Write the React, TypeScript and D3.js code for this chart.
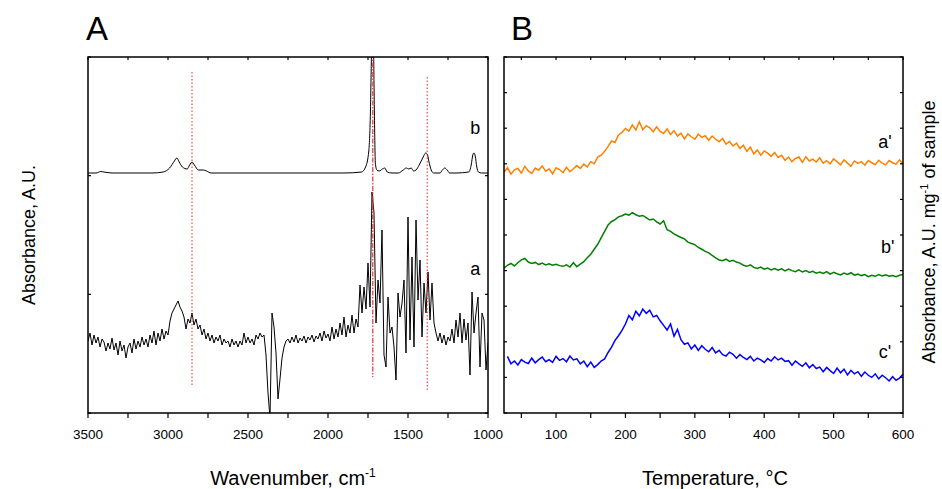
import React from 'react';
import * as d3 from 'd3';

// ---------- Panel A: FTIR spectra ----------
const wavenumbers = d3.range(3500, 999, -12.5);
const spectrumA = [
  72,80,68,78,70,76,66,74,71,62, 70,64,75,63,70,58,72,62,68,55, 66,70,60,74,64,72,66,76,68,74, 66,78,70,82,68,80,72,84,74,82, 78,
  92,100,104,108,112,106,102,96,84,94, 90,100,88,94,84,88,78,84,74,80, 72,78,70,76,72,78,68,74,70,72, 66,74,68,72,66,72,68,80,70,76,
  70,74,68,78,74,80,76,78,58,20, -5,100,86,60,14,34,55,66,72,74,
  70,76,71,78,70,75,72,77,70,76, 73,78,71,77,74,80,72,82,75,79, 72,86,74,84,76,90,78,96,76,88, 80,98,80,94,86,
  128,100,126,104,150,106,221,200,90,133, 110,183,58,46,116,80,86,66,33,120, 96,110,133,60,196,73,156,66,193,113, 153,76,130,100,141,93,130,90,80,
  72,80,70,78,68,76,72,84,70,93, 76,100,70,94,73,90,38,121,80,100, 116,46,100,93,43,70,
];
const spectrumBwn = [3500,3450,3420,3400,3350,3250,3100,3030,2990,2960,2945,2930,2910,2880,2865,2850,2835,2810,2780,2760,2730,2500,2200,1900,1790,1765,1745,1735,1728,1722,1716,1710,1704,1695,1680,1660,1645,1630,1600,1560,1530,1510,1495,1480,1465,1450,1430,1405,1390,1380,1370,1355,1340,1300,1285,1270,1255,1240,1200,1120,1105,1095,1088,1080,1070,1060,1040,1000];
const spectrumBval = [240,240,241.5,241,240,240,240,241,245,252,255,251,246,244,248,251,248,243,243,242,240,240,240,240,241,246,262,300,360,385,370,300,250,243,242,244,245,241,240,240,243,245,244,245,242,243,248,256,260,259,252,243,240,240,243,245,243,240,240,241,248,258,260,257,246,241,240,240];
const markerWavenumbers = [2850, 1720, 1380];
const markerTop = [341, 360, 336];
const markerBottom = [28, 36, 23];
const wnTicks = [3500, 3000, 2500, 2000, 1500, 1000];
const wnMinorTicks = d3.range(3500, 999, -250);

// ---------- Panel B: TPD profiles ----------
const temperatures = d3.range(25, 601, 5);
const temperaturesC = d3.range(30, 601, 5);
const profileA = [
  67.6,68.9,67.1,68.3,68.7,67.4,69.3,68.0,67.3,68.8,
  68.2,69.4,67.9,68.6,67.2,68.9,68.4,67.5,69.0,67.8,
  68.6,69.5,68.7,69.9,69.1,70.6,70.0,71.9,72.4,73.5,
  74.9,76.4,76.0,78.1,78.8,79.9,79.2,80.9,79.5,81.8,
  79.6,80.7,80.1,79.0,80.4,79.1,78.5,79.8,78.2,79.3,
  77.8,78.6,77.0,78.4,77.6,76.9,78.3,77.4,77.9,76.6,
  77.8,76.9,76.2,77.1,75.5,76.3,75.0,75.8,74.3,75.2,
  73.5,74.7,72.8,73.9,72.4,73.6,73.0,72.1,73.2,71.8,
  72.4,71.0,71.9,70.6,71.5,71.9,70.4,72.0,70.8,71.3,
  70.5,71.7,70.2,70.9,70.0,71.4,70.6,69.7,71.1,70.2,
  69.3,70.8,70.1,70.6,69.6,70.9,70.3,69.8,71.0,70.2,
  69.7,70.9,70.3,69.9,71.1,69.9,
];
const profileB = [
  40.7,41.5,42.0,41.3,42.2,43.0,43.4,42.4,42.0,42.3,
  41.7,42.1,41.6,41.9,41.5,41.8,41.4,41.2,41.6,41.0,
  42.2,41.1,41.8,42.5,43.6,44.6,46.0,47.4,49.2,51.0,
  52.8,53.8,54.3,55.1,55.4,55.9,55.6,56.3,55.7,55.3,
  55.5,54.9,54.2,54.5,53.7,53.1,54.0,51.5,51.0,50.3,
  49.8,49.3,48.9,48.0,47.6,47.3,46.5,46.0,45.4,45.0,
  44.3,43.6,43.0,42.8,43.2,42.6,42.9,42.4,42.1,41.5,
  41.2,41.6,40.9,40.6,41.0,40.4,40.7,40.2,40.6,40.1,
  40.5,39.9,40.4,40.0,39.7,40.2,39.6,40.0,39.5,39.8,
  39.3,39.6,39.2,39.7,39.0,39.5,39.1,38.8,39.3,38.9,
  39.4,38.7,39.0,38.6,38.9,38.3,38.7,38.4,38.9,38.5,
  38.8,38.4,38.6,38.3,38.7,38.9,
];
const profileC = [
  15.9,13.8,14.6,13.5,15.0,14.3,13.9,15.4,14.1,15.0,
  15.7,14.4,15.0,14.2,15.9,14.8,15.3,14.4,16.0,14.9,
  15.2,13.8,14.6,13.0,14.3,12.8,13.6,14.6,15.2,17.0,
  18.5,20.4,21.7,23.2,25.0,27.4,26.2,28.6,27.3,29.2,
  28.0,28.9,27.0,27.4,25.9,24.6,23.3,25.0,21.6,23.5,
  20.6,19.3,19.7,18.0,19.1,17.6,18.9,17.9,17.2,18.4,
  16.9,17.6,16.4,16.0,17.1,16.5,15.4,16.4,15.6,15.0,
  15.9,14.6,15.4,14.9,14.2,15.3,14.6,15.8,14.9,15.4,
  14.5,14.7,13.4,14.6,13.8,13.1,14.1,12.7,13.6,12.5,
  12.9,11.6,12.8,11.9,11.1,12.6,11.3,12.3,10.7,12.0,
  11.0,11.6,10.3,11.5,10.6,10.0,11.0,9.6,10.6,9.9,
  9.0,10.2,9.2,9.8,10.9,
];
const tempTicks = [100, 200, 300, 400, 500, 600];
const tempMinorTicks = d3.range(50, 601, 50);
const seriesNamesB = ["a'", "b'", "c'"];
const seriesColorsB = ['#ff8000', '#008000', '#0000ff'];

const FONT = '"Liberation Sans", Arial, sans-serif';

const W = 942, H = 489;
const top = 57, bottom = 413;
const A = { left: 88, right: 488 };
const B = { left: 504, right: 903 };

export default function App() {
  const xA = d3.scaleLinear().domain([3500, 1000]).range([A.left, A.right]);
  const yA = d3.scaleLinear().domain([0, 356]).range([bottom, top]);
  const xB = d3.scaleLinear().domain([25, 600]).range([B.left, B.right]);
  const yB = d3.scaleLinear().domain([0, 100]).range([bottom, top]);

  const lineA = d3.line<number>().x((_, i) => xA(wavenumbers[i])).y((d) => yA(d));
  const lineAb = d3.line<number>().x((_, i) => xA(spectrumBwn[i])).y((d) => yA(d)).curve(d3.curveMonotoneX);
  const lineBt = (ts: number[]) => d3.line<number>().x((_, i) => xB(ts[i])).y((d) => yB(d));

  const yTicksA = d3.range(0, 357, 356 / 3);
  const yTicksB = d3.range(0, 101, 10);

  const frame = (l: number, r: number) => (
    <rect x={l} y={top} width={r - l} height={bottom - top} fill="none" stroke="#000" strokeWidth={1.5} />
  );

  const profiles = [
    { ts: temperatures, v: profileA },
    { ts: temperatures, v: profileB },
    { ts: temperaturesC, v: profileC },
  ];
  const labelPosB = [[574, 75.8], [578, 46.3], [574, 16.9]];

  return (
    <svg width={W} height={H} style={{ display: 'block', position: 'absolute', left: 0, top: 0, background: '#fff' }} fontFamily={FONT}>
      <defs>
        <clipPath id="clipA"><rect x={A.left} y={top} width={A.right - A.left} height={bottom - top} /></clipPath>
        <clipPath id="clipB"><rect x={B.left} y={top} width={B.right - B.left} height={bottom - top} /></clipPath>
      </defs>
      <rect x={0} y={0} width={W} height={H} fill="#fff" />

      {/* Panel A */}
      <text x={86} y={40} fontSize={33}>A</text>
      <g clipPath="url(#clipA)">
        <path d={lineA(spectrumA) || ''} fill="none" stroke="#000" strokeWidth={1} />
        <path d={lineAb(spectrumBval) || ''} fill="none" stroke="#000" strokeWidth={1} />
        {markerWavenumbers.map((w, i) => (
          <line key={i} x1={xA(w)} x2={xA(w)} y1={yA(markerTop[i])} y2={yA(markerBottom[i])}
            stroke={i === 1 ? '#e8303a' : '#ff2020'} strokeWidth={i === 1 ? 1.2 : 1}
            strokeDasharray={i === 1 ? '5,1.5,1.5,1.5' : '1.5,2'} />
        ))}
      </g>
      {frame(A.left, A.right)}
      {wnMinorTicks.map((t) => (
        <g key={t}>
          <line x1={xA(t)} x2={xA(t)} y1={bottom} y2={bottom + 5} stroke="#000" strokeWidth={1.2} />
          <line x1={xA(t)} x2={xA(t)} y1={top} y2={top + 3} stroke="#000" strokeWidth={1.2} />
        </g>
      ))}
      {yTicksA.map((t, i) => (
        <g key={i}>
          <line x1={A.left} x2={A.left + 3} y1={yA(t)} y2={yA(t)} stroke="#000" strokeWidth={1.2} />
          <line x1={A.right} x2={A.right - 3} y1={yA(t)} y2={yA(t)} stroke="#000" strokeWidth={1.2} />
        </g>
      ))}
      {wnTicks.map((t) => (
        <text key={t} x={xA(t)} y={439} fontSize={13.5} textAnchor="middle">{t}</text>
      ))}
      <text x={xA(1080)} y={yA(284)} fontSize={18} textAnchor="middle" dominantBaseline="middle">b</text>
      <text x={xA(1080)} y={yA(143)} fontSize={18} textAnchor="middle" dominantBaseline="middle">a</text>
      <text x={293} y={485} fontSize={20} textAnchor="middle">
        Wavenumber, cm<tspan fontSize={12} dy={-8}>-1</tspan>
      </text>
      <text transform="translate(35,235) rotate(-90)" fontSize={18} textAnchor="middle">Absorbance, A.U.</text>

      {/* Panel B */}
      <text x={511} y={40} fontSize={33}>B</text>
      <g clipPath="url(#clipB)">
        {profiles.map((p, i) => (
          <path key={i} d={lineBt(p.ts)(p.v) || ''} fill="none" stroke={seriesColorsB[i]} strokeWidth={1.5} />
        ))}
      </g>
      {frame(B.left, B.right)}
      {tempMinorTicks.map((t) => (
        <g key={t}>
          <line x1={xB(t)} x2={xB(t)} y1={bottom} y2={bottom + 5} stroke="#000" strokeWidth={1.2} />
          <line x1={xB(t)} x2={xB(t)} y1={top} y2={top + 3} stroke="#000" strokeWidth={1.2} />
        </g>
      ))}
      {yTicksB.map((t) => (
        <g key={t}>
          <line x1={B.left} x2={B.left + 3} y1={yB(t)} y2={yB(t)} stroke="#000" strokeWidth={1.2} />
          <line x1={B.right} x2={B.right - 3} y1={yB(t)} y2={yB(t)} stroke="#000" strokeWidth={1.2} />
        </g>
      ))}
      {tempTicks.map((t) => (
        <text key={t} x={xB(t)} y={439} fontSize={13.5} textAnchor="middle">{t}</text>
      ))}
      {seriesNamesB.map((n, i) => (
        <text key={n} x={xB(labelPosB[i][0])} y={yB(labelPosB[i][1])} fontSize={18} textAnchor="middle" dominantBaseline="middle">{n}</text>
      ))}
      <text x={715} y={485} fontSize={20} textAnchor="middle">Temperature, °C</text>
      <text transform="translate(935,232) rotate(-90)" fontSize={18} textAnchor="middle">
        Absorbance, A.U. mg<tspan fontSize={11} dy={-7}>-1</tspan><tspan dy={7}> of sample</tspan>
      </text>
    </svg>
  );
}
